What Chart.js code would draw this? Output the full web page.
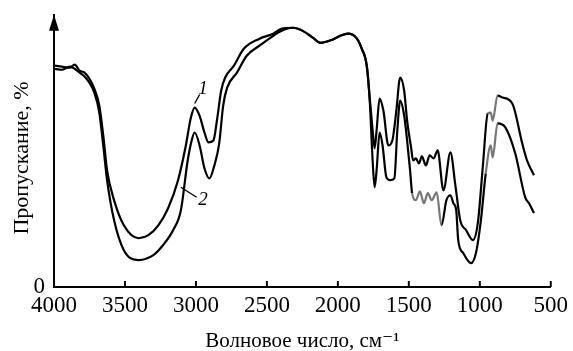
<!DOCTYPE html>
<html>
<head>
<meta charset="utf-8">
<script src="https://cdn.jsdelivr.net/npm/chart.js@4/dist/chart.umd.min.js"></script>
<style>
  body { margin: 0; background: #fff; }
  #ir { display: block; }
</style>
</head>
<body>
<canvas id="ir" width="573" height="351"></canvas>
<script>
// Spectrum 1 (upper curve)
const wave1 = [4000, 3945, 3889, 3854, 3820, 3785, 3751, 3716, 3681, 3653, 3626, 3577, 3508, 3404, 3335, 3265,
  3196, 3127, 3071, 3037, 3009, 2974, 2940, 2912, 2877, 2850, 2822, 2794, 2732, 2663, 2552, 2455, 2399, 2316,
  2247, 2177, 2122, 2039, 1983, 1928, 1866, 1831, 1796, 1775, 1755, 1741, 1727, 1706, 1679, 1644, 1616, 1588,
  1561, 1533, 1512, 1484, 1470, 1450, 1429, 1408, 1380, 1353, 1325, 1297, 1256, 1207, 1172, 1138, 1096, 1048,
  1013, 979, 944, 923, 909, 875, 840, 771, 701, 667, 618];
const trans1 = [85.4, 85.0, 84.6, 85.8, 83.5, 82.7, 80.4, 76.5, 70.0, 58.5, 45.0, 33.5, 23.8, 18.8, 20.0, 23.8,
  30.4, 41.0, 54.6, 65.0, 69.2, 66.0, 59.6, 55.8, 56.5, 65.0, 75.8, 80.8, 85.4, 91.9, 95.8, 97.7, 99.6, 100,
  98.8, 96.2, 94.2, 95.4, 96.9, 97.7, 95.8, 91.9, 85.4, 72.7, 60.4, 53.5, 60.4, 72.7, 68.0, 54.6, 56.5, 68.0,
  80.8, 75.8, 64.2, 53.8, 48.8, 49.6, 47.7, 50.4, 46.9, 50.8, 49.6, 52.7, 37.3, 51.9, 39.2, 25.8, 21.9, 18.1,
  25.0, 46.2, 66.9, 67.3, 64.2, 73.8, 73.1, 70.8, 55.4, 48.8, 43.1];

// Spectrum 2 (lower curve)
const wave2 = [4000, 3945, 3889, 3854, 3820, 3785, 3751, 3716, 3681, 3653, 3626, 3577, 3508, 3404, 3300, 3231,
  3161, 3106, 3058, 3030, 3009, 2974, 2940, 2905, 2870, 2836, 2808, 2780, 2711, 2642, 2552, 2455, 2399, 2316,
  2247, 2177, 2122, 2039, 1983, 1928, 1866, 1831, 1796, 1775, 1755, 1741, 1727, 1706, 1685, 1658, 1630, 1602,
  1581, 1561, 1533, 1512, 1491, 1477, 1450, 1422, 1394, 1366, 1339, 1304, 1270, 1235, 1207, 1186, 1166, 1152,
  1117, 1062, 1027, 992, 958, 923, 909, 875, 819, 750, 680, 653, 618];
const trans2 = [84.2, 83.8, 85.0, 84.2, 82.7, 81.2, 78.8, 75.0, 67.3, 54.6, 41.2, 25.8, 14.2, 10.4, 12.3, 16.2,
  21.9, 29.6, 48.8, 56.5, 59.6, 54.6, 45.8, 41.9, 46.9, 55.4, 70.0, 76.9, 82.7, 89.2, 93.1, 96.9, 98.8, 100,
  98.8, 96.2, 94.2, 95.4, 96.9, 97.7, 95.8, 91.9, 85.0, 71.5, 48.8, 38.5, 45.0, 59.6, 54.6, 42.3, 41.2, 41.9,
  60.4, 71.9, 66.2, 56.5, 45.0, 36.2, 33.5, 36.9, 32.3, 36.2, 33.5, 36.5, 23.8, 33.5, 35.4, 32.3, 29.6, 18.1,
  13.1, 9.2, 13.1, 25.8, 43.8, 54.6, 50.0, 63.1, 61.5, 51.5, 34.6, 32.3, 28.5];

const xTicks = [4000, 3500, 3000, 2500, 2000, 1500, 1000, 500];

const serif = "'Liberation Serif', 'DejaVu Serif', serif";

function points(xs, ys) {
  return xs.map((x, i) => ({ x: x, y: ys[i] }));
}

// faded parts of the scanned lines
function fade(ranges) {
  return ctx => {
    const x = ctx.p0.parsed.x;
    for (const r of ranges) {
      if (x <= r[0] && x >= r[1]) return '#777';
    }
    return '#000';
  };
}

// arrow on the y axis, inner tick marks, curve numbers and y title
const decor = {
  id: 'decor',
  afterDraw(chart) {
    const c = chart.ctx;
    const xs = chart.scales.x;
    const ys = chart.scales.y;
    const area = chart.chartArea;
    c.save();
    c.fillStyle = '#000';
    c.strokeStyle = '#000';
    c.lineWidth = 2;
    // arrow head
    c.beginPath();
    c.moveTo(area.left, area.top);
    c.lineTo(area.left - 5, area.top + 16);
    c.lineTo(area.left + 5, area.top + 16);
    c.closePath();
    c.fill();
    // ticks pointing up from the x axis
    xTicks.forEach(v => {
      const px = xs.getPixelForValue(v);
      c.beginPath();
      c.moveTo(px, area.bottom);
      c.lineTo(px, area.bottom - 6);
      c.stroke();
    });
    // leader lines
    c.lineWidth = 1.3;
    c.beginPath();
    c.moveTo(xs.getPixelForValue(3009), ys.getPixelForValue(70.8));
    c.lineTo(xs.getPixelForValue(2974), ys.getPixelForValue(74.2));
    c.moveTo(xs.getPixelForValue(3106), ys.getPixelForValue(38.5));
    c.lineTo(xs.getPixelForValue(2995), ys.getPixelForValue(34.6));
    c.stroke();
    c.font = 'italic 19px ' + serif;
    c.textAlign = 'center';
    c.textBaseline = 'middle';
    c.fillText('1', xs.getPixelForValue(2950), ys.getPixelForValue(76.5));
    c.fillText('2', xs.getPixelForValue(2950), ys.getPixelForValue(33.5));
    // y axis title
    c.translate(22, 158);
    c.rotate(-Math.PI / 2);
    c.font = '22px ' + serif;
    c.fillText('Пропускание, %', 0, 0);
    c.restore();
  }
};

new Chart(document.getElementById('ir'), {
  type: 'line',
  data: {
    datasets: [
      {
        label: '1',
        data: points(wave1, trans1),
        borderColor: '#000',
        borderWidth: 2.2,
        pointRadius: 0,
        cubicInterpolationMode: 'monotone',
        segment: { borderColor: fade([[965, 900]]) },
      },
      {
        label: '2',
        data: points(wave2, trans2),
        borderColor: '#000',
        borderWidth: 2.2,
        pointRadius: 0,
        cubicInterpolationMode: 'monotone',
        segment: { borderColor: fade([[1480, 1290], [965, 900]]) },
      },
    ],
  },
  options: {
    responsive: false,
    animation: false,
    devicePixelRatio: 1,
    layout: { padding: { left: 0, right: 14, top: 14, bottom: 0 } },
    plugins: { legend: { display: false }, tooltip: { enabled: false } },
    scales: {
      x: {
        type: 'linear',
        reverse: true,
        min: 500,
        max: 4000,
        afterFit: s => { s.height = 64; },
        afterBuildTicks: s => { s.ticks = xTicks.map(v => ({ value: v })); },
        grid: { display: true, drawOnChartArea: false, drawTicks: false },
        border: { color: '#000', width: 2 },
        ticks: {
          color: '#000',
          padding: 5,
          maxRotation: 0,
          autoSkip: false,
          font: { family: serif, size: 23 },
          callback: v => String(v),
        },
        title: {
          display: true,
          text: 'Волновое число, см⁻¹',
          color: '#000',
          padding: { top: 0, bottom: -3 },
          font: { family: serif, size: 21 },
        },
      },
      y: {
        min: 0,
        max: 105,
        afterFit: s => { s.width = 54; },
        afterBuildTicks: s => { s.ticks = [{ value: 0 }]; },
        grid: { display: false },
        border: { color: '#000', width: 2 },
        ticks: { color: '#000', padding: 1, font: { family: serif, size: 23 }, callback: v => String(v) },
        title: { display: false },
      },
    },
  },
  plugins: [decor],
});
</script>
</body>
</html>
